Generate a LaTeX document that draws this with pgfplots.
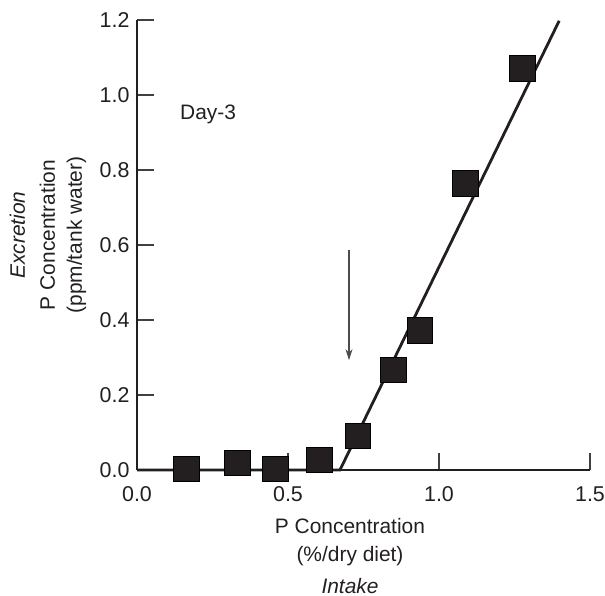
\documentclass[border=0pt]{standalone}
\usepackage{pgfplots}
\pgfplotsset{compat=1.18}
\usepackage{fontspec}
\setmainfont{Liberation Sans}
\usetikzlibrary{arrows.meta}
\definecolor{ink}{HTML}{231F20}
\begin{document}
\begin{tikzpicture}
\begin{axis}[
  scale only axis,
  width=453bp, height=450bp,
  xmin=0, xmax=1.5, ymin=0, ymax=1.2,
  axis lines=left,
  axis line style={-, line width=2.8bp, ink},
  xtick={0,0.5,1.0,1.5},
  ytick={0,0.2,0.4,0.6,0.8,1.0,1.2},
  tick align=inside,
  major tick length=17bp,
  tick style={line width=1.1bp, black!75},
  tick label style={font=\fontsize{21.5}{25}\selectfont, text=ink},
  /pgf/number format/assume math mode=true,
  /pgf/number format/fixed,
  /pgf/number format/fixed zerofill,
  /pgf/number format/precision=1,
  xticklabel style={yshift=-13bp},
  yticklabel style={xshift=-4bp},
  clip=false,
]
\addplot[ink, line width=2.8bp] coordinates {(0,0) (0.672,0) (1.398,1.198)};
\addplot[only marks, mark=square*, mark size=12.8bp, mark options={fill=ink, draw=none}] coordinates {
(0.162,0.003) (0.331,0.019) (0.457,0.003) (0.603,0.027) (0.731,0.091)
(0.848,0.267) (0.936,0.373) (1.086,0.765) (1.275,1.072)};
\draw[black!70, line width=1.1bp, -{Stealth[length=11bp,width=7bp]}] (axis cs:0.702,0.587) -- (axis cs:0.702,0.293);
\coordinate (O) at (axis cs:0,0);
\end{axis}
\begin{scope}[every node/.style={font=\fontsize{21}{25}\selectfont, text=ink, inner sep=0pt}]
\node[anchor=base west] at ([shift={(43bp,350bp)}]O) {Day-3};
\node[anchor=base] at ([shift={(213bp,-63bp)}]O) {P Concentration};
\node[anchor=base] at ([shift={(213bp,-91bp)}]O) {(\%/dry diet)};
\node[anchor=base] at ([shift={(213bp,-123bp)}]O) {\itshape Intake};
\node[anchor=base, rotate=90] at ([shift={(-112bp,235bp)}]O) {\itshape Excretion};
\node[anchor=base, rotate=90] at ([shift={(-82bp,235bp)}]O) {P Concentration};
\node[anchor=base, rotate=90] at ([shift={(-55bp,235bp)}]O) {(ppm/tank water)};
\end{scope}
\pgfresetboundingbox
\path ([shift={(-137bp,-126bp)}]O) rectangle ([shift={(468bp,470bp)}]O);
\end{tikzpicture}
\end{document}
